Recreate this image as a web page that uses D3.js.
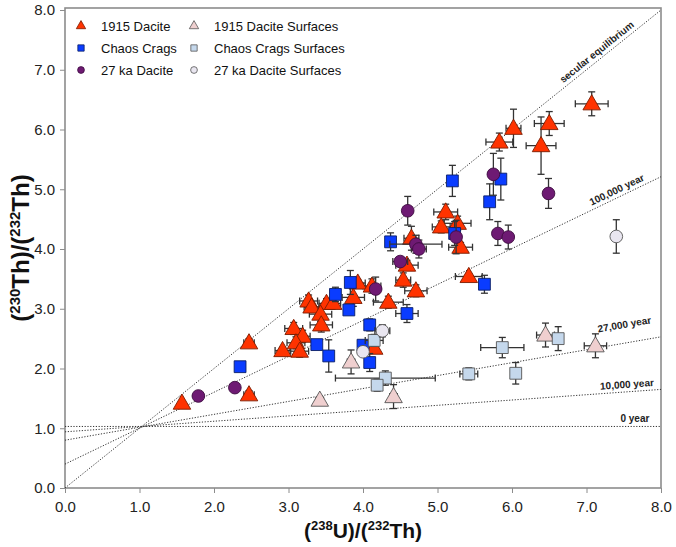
<!DOCTYPE html>
<html><head><meta charset="utf-8">
<script src="https://cdn.jsdelivr.net/npm/d3@7/dist/d3.min.js"></script>
<style>body{margin:0;background:#fff}svg{display:block}text{font-family:"Liberation Sans",Arial,Helvetica,sans-serif}</style>
</head><body><svg id="c" width="676" height="547"></svg>
<script>
// [x, y, xerr, yerr]
const dacite1915 = [
 [1.57,1.42,0.03,0.03],[2.47,2.43,0.07,0.07],[2.47,1.56,0.07,0.07],[3.27,3.13,0.12,0.10],
 [3.31,3.03,0.10,0.08],[3.51,3.09,0.10,0.08],[3.60,3.09,0.10,0.08],[3.43,2.91,0.15,0.12],
 [3.44,2.73,0.15,0.12],[3.07,2.67,0.12,0.10],[3.19,2.54,0.10,0.10],[3.10,2.43,0.12,0.10],
 [2.92,2.30,0.10,0.05],[3.15,2.29,0.12,0.10],[3.93,3.43,0.10,0.06],[3.87,3.19,0.15,0.15],
 [4.12,3.38,0.12,0.12],[4.34,3.11,0.20,0.10],[4.15,2.34,0.05,0.05],[5.11,4.62,0.16,0.13],
 [5.27,4.43,0.18,0.12],[5.05,4.37,0.12,0.10],[5.31,4.03,0.16,0.08],[4.65,4.18,0.10,0.20],
 [4.59,3.73,0.15,0.08],[4.54,3.48,0.10,0.12],[4.71,3.30,0.15,0.10],[5.42,3.54,0.18,0.05],
 [7.07,6.43,0.22,0.20],[6.02,6.02,0.10,0.32],[5.83,5.79,0.18,0.15],[6.50,6.10,0.20,0.20],
 [6.39,5.73,0.20,0.48]
];
const chaosCrags = [
 [2.35,2.03,0.03,0.03],[3.38,2.40,0.05,0.05],[3.54,2.21,0.05,0.27],[3.63,3.24,0.05,0.12],
 [3.83,3.44,0.05,0.20],[3.81,2.98,0.05,0.05],[4.09,2.73,0.05,0.10],[4.00,2.39,0.05,0.05],
 [4.09,2.10,0.05,0.15],[4.37,4.12,0.05,0.15],[4.59,2.92,0.15,0.15],[5.20,5.14,0.05,0.26],
 [5.23,4.26,0.05,0.20],[5.63,3.41,0.05,0.15],[5.70,4.79,0.05,0.30],[5.85,5.17,0.05,0.35]
];
const dacite27ka = [
 [1.79,1.54,0.02,0.02],[2.28,1.68,0.02,0.02],[4.17,3.33,0.05,0.20],[4.50,3.79,0.10,0.05],
 [4.60,4.64,0.05,0.24],[4.71,4.08,0.35,0.15],[4.75,4.00,0.10,0.15],[5.25,4.20,0.05,0.28],
 [5.75,5.25,0.05,0.35],[5.81,4.26,0.05,0.20],[5.95,4.20,0.05,0.20],[6.49,4.93,0.05,0.25]
];
const dacite1915Surf = [
 [3.42,1.47,0.05,0.05],[4.41,1.53,0.05,0.20],[3.84,2.11,0.05,0.20],[6.45,2.56,0.12,0.20],
 [7.12,2.38,0.15,0.20]
];
const chaosCragsSurf = [
 [4.15,2.47,0.12,0.10],[4.30,1.84,0.67,0.12],[4.19,1.72,0.05,0.10],[5.87,2.35,0.29,0.17],
 [6.62,2.50,0.05,0.20],[5.42,1.91,0.12,0.10],[6.05,1.92,0.05,0.18]
];
const dacite27kaSurf = [
 [4.26,2.63,0.10,0.10],[4.00,2.28,0.05,0.05],[7.40,4.21,0.05,0.28]
];
const isoNames = ["secular equilibrium","100,000 year","27,000 year","10,000 year","0 year"];
const isoY0 = [0, 0.40, 0.80, 0.94, 1.03];
const isoY8 = [8, 5.21, 2.53, 1.65, 1.03];
const isoLabelX = [7.2, 7.45, 7.55, 7.55, 7.65];
const xTicks = [0,1,2,3,4,5,6,7,8];
const yTicks = [0,1,2,3,4,5,6,7,8];

const svg = d3.select("#c");
const L=65,R=661,T=10,B=488;
const x = d3.scaleLinear().domain([0,8]).range([L,R]);
const y = d3.scaleLinear().domain([0,8]).range([B,T]);

// frame
svg.append("rect").attr("x",L).attr("y",T-2).attr("width",R-L).attr("height",B-T+2)
  .attr("fill","none").attr("stroke","#8c8c8c").attr("stroke-width",1.6);

const xAx = d3.axisBottom(x).tickValues(xTicks).tickFormat(d3.format(".1f")).tickSize(5).tickSizeOuter(0);
const gx = svg.append("g").attr("transform",`translate(0,${B})`).call(xAx);
gx.select(".domain").remove();
gx.selectAll("line").attr("stroke","#8c8c8c");
gx.selectAll("text").attr("font-size",15).attr("fill","#222").attr("dy","1.05em");

const yAx = d3.axisLeft(y).tickValues(yTicks).tickFormat(d3.format(".1f")).tickSize(5).tickSizeOuter(0);
const gy = svg.append("g").attr("transform",`translate(${L},0)`).call(yAx);
gy.select(".domain").remove();
gy.selectAll("line").attr("stroke","#8c8c8c");
gy.selectAll("text").attr("font-size",15).attr("fill","#222").attr("x",-10);

// isochrons
svg.append("clipPath").attr("id","pc").append("rect").attr("x",L).attr("y",T-2).attr("width",R-L).attr("height",B-T+2);
isoNames.forEach((n,i)=>{
  svg.append("line").attr("clip-path","url(#pc)")
   .attr("x1",x(0)).attr("y1",y(isoY0[i])).attr("x2",x(8)).attr("y2",y(isoY8[i]))
   .attr("stroke","#333").attr("stroke-width",1).attr("stroke-dasharray","1.2,1.6");
  const lx = isoLabelX[i];
  const slope = (isoY8[i]-isoY0[i])/8;
  const ly = isoY0[i]+slope*lx;
  const ang = Math.atan2(y(isoY8[i])-y(isoY0[i]), x(8)-x(0))*180/Math.PI;
  const off = i===2 ? -15 : -4;
  svg.append("text").attr("transform",`translate(${x(lx)},${y(ly)}) rotate(${ang}) translate(0,${off})`)
   .attr("text-anchor","middle").attr("font-size",10).attr("font-weight","bold").attr("fill","#222").text(n);
});

const series = [
 {data:dacite1915, shape:"tri", fill:"#ff3300", stroke:"#7a1c00", name:"1915 Dacite"},
 {data:chaosCrags, shape:"sq", fill:"#0a3cff", stroke:"#0b1f66", name:"Chaos Crags"},
 {data:dacite27ka, shape:"circ", fill:"#6e1a73", stroke:"#3d0c40", name:"27 ka Dacite"},
 {data:dacite1915Surf, shape:"tri", fill:"#efcfcf", stroke:"#555", name:"1915 Dacite Surfaces"},
 {data:chaosCragsSurf, shape:"sq", fill:"#c5d8ec", stroke:"#555", name:"Chaos Crags Surfaces"},
 {data:dacite27kaSurf, shape:"circ", fill:"#e9e6f0", stroke:"#555", name:"27 ka Dacite Surfaces"}
];
function sym(shape,size){
  if(shape==="tri") return d3.symbol().type(d3.symbolTriangle).size(size*0.95)();
  if(shape==="sq") return d3.symbol().type(d3.symbolSquare).size(size)();
  return d3.symbol().type(d3.symbolCircle).size(size*0.9)();
}
const cap=3.5;
series.forEach(s=>{
  const g = svg.append("g");
  s.data.forEach(d=>{
    const [vx,vy,ex,ey]=d;
    const eg=g.append("g").attr("stroke","#333").attr("stroke-width",1.3);
    if(ex>0.04){
      eg.append("line").attr("x1",x(vx-ex)).attr("x2",x(vx+ex)).attr("y1",y(vy)).attr("y2",y(vy));
      eg.append("line").attr("x1",x(vx-ex)).attr("x2",x(vx-ex)).attr("y1",y(vy)-cap).attr("y2",y(vy)+cap);
      eg.append("line").attr("x1",x(vx+ex)).attr("x2",x(vx+ex)).attr("y1",y(vy)-cap).attr("y2",y(vy)+cap);
    }
    if(ey>0.04){
      eg.append("line").attr("x1",x(vx)).attr("x2",x(vx)).attr("y1",y(vy-ey)).attr("y2",y(vy+ey));
      eg.append("line").attr("y1",y(vy-ey)).attr("y2",y(vy-ey)).attr("x1",x(vx)-cap).attr("x2",x(vx)+cap);
      eg.append("line").attr("y1",y(vy+ey)).attr("y2",y(vy+ey)).attr("x1",x(vx)-cap).attr("x2",x(vx)+cap);
    }
  });
  g.selectAll("path.m").data(s.data).join("path").attr("class","m")
   .attr("d",sym(s.shape,140))
   .attr("transform",d=>`translate(${x(d[0])},${y(d[1])+(s.shape==="tri"?1:0)})`)
   .attr("fill",s.fill).attr("stroke",s.stroke).attr("stroke-width",0.9);
});

// legend
const legCols=[81,194], legText=[101,214], legRows=[29,51,73];
series.forEach((s,i)=>{
  const c=Math.floor(i/3), r=i%3;
  svg.append("path").attr("d",sym(s.shape,40))
    .attr("transform",`translate(${legCols[c]},${legRows[r]-3})`)
    .attr("fill",s.fill).attr("stroke",s.stroke).attr("stroke-width",0.8);
  svg.append("text").attr("x",legText[c]).attr("y",legRows[r]+2).attr("font-size",13).attr("fill","#111").text(s.name);
});

// axis titles
const xt = svg.append("text").attr("x",363).attr("y",538).attr("text-anchor","middle")
  .attr("font-size",21).attr("font-weight","bold").attr("fill","#111");
xt.append("tspan").text("(");
xt.append("tspan").attr("font-size",13).attr("dy",-8).text("238");
xt.append("tspan").attr("dy",8).text("U)/(");
xt.append("tspan").attr("font-size",13).attr("dy",-8).text("232");
xt.append("tspan").attr("dy",8).text("Th)");

const yt = svg.append("text").attr("transform","translate(29,248) rotate(-90)").attr("text-anchor","middle")
  .attr("font-size",24).attr("font-weight","bold").attr("fill","#111");
yt.append("tspan").text("(");
yt.append("tspan").attr("font-size",15).attr("dy",-9).text("230");
yt.append("tspan").attr("dy",9).text("Th)/(");
yt.append("tspan").attr("font-size",15).attr("dy",-9).text("232");
yt.append("tspan").attr("dy",9).text("Th)");
</script></body></html>
